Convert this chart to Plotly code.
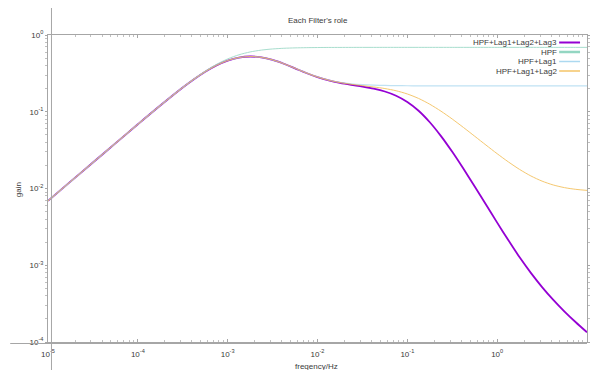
import plotly.graph_objects as go

# ---- data ----
freq = [1e-5, 1.778e-5, 3.162e-5, 5.623e-5, 1e-4, 1.778e-4, 3.162e-4,
        4.217e-4, 5.623e-4, 7.499e-4, 1e-3,
        1.334e-3, 1.778e-3, 2.371e-3, 3.162e-3, 4.217e-3, 5.623e-3, 7.499e-3, 1e-2,
        1.334e-2, 1.778e-2, 2.371e-2, 3.162e-2, 4.217e-2, 5.623e-2, 7.499e-2, 0.1,
        0.1334, 0.1778, 0.2371, 0.3162, 0.4217, 0.5623, 0.7499, 1.0,
        1.334, 1.778, 2.371, 3.162, 4.217, 5.623, 7.499, 10.0]

gain_hpf = [0.0069, 0.01227, 0.02181, 0.03874, 0.06866, 0.1208, 0.2080,
            0.2681, 0.3382, 0.4140, 0.4879,
            0.5521, 0.6013, 0.6358, 0.6578, 0.6714, 0.6793, 0.6840, 0.6866,
            0.6881, 0.6888, 0.6894, 0.6897, 0.6898, 0.6899, 0.69, 0.69,
            0.69, 0.69, 0.69, 0.69, 0.69, 0.69, 0.69, 0.69,
            0.69, 0.69, 0.69, 0.69, 0.69, 0.69, 0.69, 0.69]

gain_lag1 = [0.0069, 0.01227, 0.02181, 0.03873, 0.06862, 0.1206, 0.2070,
             0.2657, 0.3329, 0.4026, 0.4648,
             0.5084, 0.5246, 0.5118, 0.4743, 0.4228, 0.3687, 0.3213, 0.2845,
             0.2588, 0.2420, 0.2317, 0.2256, 0.2220, 0.2200, 0.2189, 0.2181,
             0.2178, 0.2175, 0.2174, 0.2174, 0.2173, 0.2173, 0.2173, 0.2173,
             0.2173, 0.2173, 0.2173, 0.2173, 0.2173, 0.2173, 0.2173, 0.2173]

gain_lag2 = [0.0069, 0.01227, 0.02181, 0.03873, 0.06862, 0.1206, 0.2070,
             0.2657, 0.3329, 0.4026, 0.4648,
             0.5084, 0.5246, 0.5117, 0.4742, 0.4225, 0.3684, 0.3207, 0.2836,
             0.2573, 0.2396, 0.2277, 0.2187, 0.2104, 0.2006, 0.1877, 0.1704,
             0.1491, 0.1253, 0.1017, 0.08035, 0.06237, 0.04797, 0.03683, 0.02841,
             0.02219, 0.01771, 0.01458, 0.01247, 0.01111, 0.01026, 0.00975, 0.00945]

gain_lag3 = [0.0069, 0.01227, 0.02181, 0.03873, 0.06862, 0.1206, 0.2070,
             0.2657, 0.3329, 0.4026, 0.4648,
             0.5084, 0.5245, 0.5116, 0.4740, 0.4223, 0.3680, 0.3201, 0.2828,
             0.2559, 0.2373, 0.2238, 0.2123, 0.1997, 0.1836, 0.1618, 0.1341,
             0.1031, 0.07303, 0.04818, 0.03005, 0.01805, 0.01061, 0.006173, 0.003593,
             0.002112, 0.001267, 0.000796, 0.00052, 0.0003535, 0.0002491, 0.0001807, 0.0001337]

series_names = ["HPF+Lag1+Lag2+Lag3", "HPF", "HPF+Lag1", "HPF+Lag1+Lag2"]
series_values = [gain_lag3, gain_hpf, gain_lag1, gain_lag2]
series_colors = ["#9400d3", "#93d6c2", "#acd9f0", "#f2b640"]
series_widths = [1.8, 1, 1.2, 1]
series_opacity = [1.0, 0.8, 0.75, 0.75]
legend_widths = [2, 2.5, 1.5, 1.2]

x_tickvals = [1e-5, 1e-4, 1e-3, 1e-2, 1e-1, 1e0, 1e1]
x_ticktext = ["10<sup>-5</sup>", "10<sup>-4</sup>", "10<sup>-3</sup>", "10<sup>-2</sup>",
              "10<sup>-1</sup>", "10<sup>0</sup>", "10<sup>1</sup>"]
y_tickvals = [1e-4, 1e-3, 1e-2, 1e-1, 1e0]
y_ticktext = ["10<sup>-4</sup>", "10<sup>-3</sup>", "10<sup>-2</sup>", "10<sup>-1</sup>", "10<sup>0</sup>"]

title_text = "Each Filter's role"
x_title = "freqency/Hz"
y_title = "gain"

# ---- layout geometry (pixels) ----
W, H = 590, 370
L, R, T, B = 48, 0, 35, 28
PW, PH = W - L - R, H - T - B

def px(x):
    return (x - L) / PW

def py(y):
    return (H - B - y) / PH

FONT = "Liberation Sans"
TXT = "#3a3a3a"
AX = "#a6a6a6"

minor_x = [k * d for d in [1e-5, 1e-4, 1e-3, 1e-2, 1e-1, 1e0] for k in range(2, 10)]
minor_y = [k * d for d in [1e-4, 1e-3, 1e-2, 1e-1] for k in range(2, 10)]

fig = go.Figure()
for name, vals, col, w, op in zip(series_names, series_values, series_colors,
                                  series_widths, series_opacity):
    fig.add_trace(go.Scatter(x=freq, y=vals, mode="lines", name=name, opacity=op,
                             line=dict(color=col, width=w, shape="spline", smoothing=0.8)))

shapes = [
    dict(type="line", xref="paper", yref="paper", x0=px(51.5), x1=px(51.5), y0=py(8), y1=py(372),
         line=dict(color=AX, width=1)),
    dict(type="line", xref="paper", yref="paper", x0=px(10), x1=1.0, y0=py(343.5), y1=py(343.5),
         line=dict(color=AX, width=1)),
]
annotations = []
row_y = [42.5, 52, 61.5, 71]
for name, col, lw, ry in zip(series_names, series_colors, legend_widths, row_y):
    shapes.append(dict(type="line", xref="paper", yref="paper", x0=px(562), x1=px(583),
                       y0=py(ry), y1=py(ry), line=dict(color=col, width=lw)))
    annotations.append(dict(text=name, xref="paper", yref="paper", x=px(561), y=py(ry),
                            xanchor="right", yanchor="middle", showarrow=False, borderpad=0,
                            font=dict(family=FONT, size=8, color=TXT)))

annotations.append(dict(text=title_text, xref="paper", yref="paper", x=px(319.5), y=py(21),
                        xanchor="center", yanchor="middle", showarrow=False,
                        font=dict(family=FONT, size=8, color=TXT)))
annotations.append(dict(text=x_title, xref="paper", yref="paper", x=px(318), y=py(366),
                        xanchor="center", yanchor="middle", showarrow=False,
                        font=dict(family=FONT, size=8, color=TXT)))
annotations.append(dict(text=y_title, xref="paper", yref="paper", x=px(18), y=py(190),
                        xanchor="center", yanchor="middle", showarrow=False, textangle=-90,
                        font=dict(family=FONT, size=8, color=TXT)))

fig.update_layout(
    width=W, height=H,
    margin=dict(l=L, r=R, t=T, b=B, pad=0),
    paper_bgcolor="white", plot_bgcolor="white",
    showlegend=False,
    font=dict(family=FONT, size=8, color=TXT),
    shapes=shapes, annotations=annotations,
    xaxis=dict(type="log", range=[-5, 1], showgrid=False, zeroline=False,
               showline=True, linecolor=AX, linewidth=1, mirror="ticks",
               ticks="inside", ticklen=3, tickcolor=AX, tickwidth=1,
               tickmode="array", tickvals=x_tickvals, ticktext=x_ticktext,
               ticklabelstandoff=4,
               tickfont=dict(family=FONT, size=8, color=TXT),
               minor=dict(tickmode="array", tickvals=minor_x, ticks="inside", ticklen=2,
                          tickcolor="#c0c0c0", showgrid=False)),
    yaxis=dict(type="log", range=[-4, 0], showgrid=False, zeroline=False,
               showline=True, linecolor=AX, linewidth=1, mirror="ticks",
               ticks="outside", ticklen=2, tickcolor=AX, tickwidth=1,
               tickmode="array", tickvals=y_tickvals, ticktext=y_ticktext,
               tickfont=dict(family=FONT, size=8, color=TXT),
               minor=dict(tickmode="array", tickvals=minor_y, ticks="outside", ticklen=2,
                          tickcolor="#c0c0c0", showgrid=False)),
)

fig.write_html("out.html")
